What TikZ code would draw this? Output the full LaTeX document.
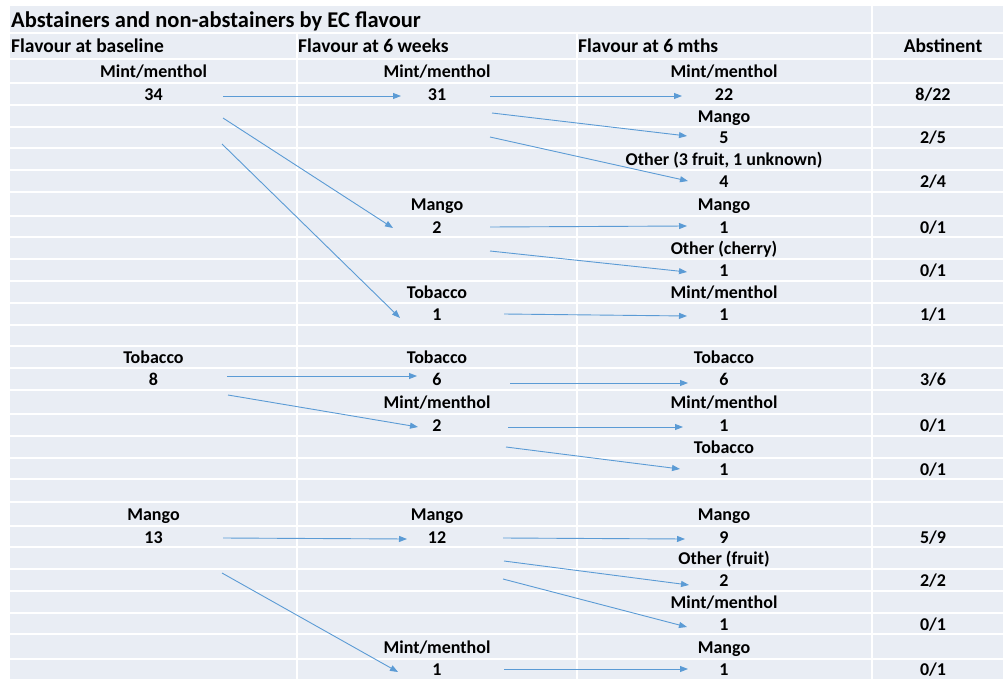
\documentclass[tikz,border=0pt]{standalone}
\usepackage{fontspec}
\setmainfont{Carlito}
\usetikzlibrary{arrows.meta}
\definecolor{bandbg}{RGB}{233,237,244}
\definecolor{arrowblue}{RGB}{91,155,213}
\begin{document}
\begin{tikzpicture}[x=1pt,y=-1pt,
  cell/.style={inner sep=0pt, anchor=base, font=\fontsize{18}{20}\selectfont\bfseries},
  hdr/.style={inner sep=0pt, anchor=base west, font=\fontsize{19.5}{22}\selectfont\bfseries},
  ttl/.style={inner sep=0pt, anchor=base west, font=\fontsize{22.5}{24}\selectfont\bfseries},
  flow/.style={draw=arrowblue, line width=0.9pt, -{Triangle[length=8pt,width=6pt]}},
  gridline/.style={draw=white, line width=1.5pt}]
\useasboundingbox (0,0) rectangle (1003,679);
\fill[bandbg] (10,6) rectangle (1003,679);
\foreach \yy in {33,59,83,105,127,148,170,192,216,237,259,281,303,325,346,368,390,414,436,458,479,502,526,547,569,591,613,634,659}
  \draw[gridline] (10,\yy) -- (1003,\yy);
\draw[gridline] (297,33) -- (297,679);
\draw[gridline] (577,33) -- (577,679);
\draw[gridline] (872,6) -- (872,679);

% title and headers
\node[ttl] (title) at (11,28) {Abstainers and non-abstainers by EC flavour};
\node[hdr] (h1) at (11,53) {Flavour at baseline};
\node[hdr] (h2) at (298,53) {Flavour at 6 weeks};
\node[hdr] (h3) at (578,53) {Flavour at 6 mths};
\node[hdr, anchor=base] (h4) at (943,53) {Abstinent};

% column 1
\node[cell] (bML) at (153.5,77.5) {Mint/menthol};
\node[cell] (bM)  at (153.5,100.5) {34};
\node[cell] (bTL) at (153.5,363.5) {Tobacco};
\node[cell] (bT)  at (153.5,385.5) {8};
\node[cell] (bGL) at (153.5,520.5) {Mango};
\node[cell] (bG)  at (153.5,543) {13};

% column 2
\node[cell] (wML) at (437,77.5) {Mint/menthol};
\node[cell] (wM)  at (437,100.5) {31};
\node[cell] (wGL) at (437,210.5) {Mango};
\node[cell] (wG)  at (437,233) {2};
\node[cell] (wTL) at (437,298.5) {Tobacco};
\node[cell] (wT)  at (437,320.5) {1};
\node[cell] (wTTL) at (437,363.5) {Tobacco};
\node[cell] (wTT)  at (437,385.5) {6};
\node[cell] (wTML) at (437,408.5) {Mint/menthol};
\node[cell] (wTM)  at (437,431.5) {2};
\node[cell] (wGGL) at (437,520.5) {Mango};
\node[cell] (wGG)  at (437,543) {12};
\node[cell] (wGML) at (437,653) {Mint/menthol};
\node[cell] (wGM)  at (437,675) {1};

% column 3
\node[cell] (mA1L) at (724,77.5) {Mint/menthol};
\node[cell] (mA1)  at (724,100.5) {22};
\node[cell] (mA2L) at (724,122.5) {Mango};
\node[cell] (mA2)  at (724,144) {5};
\node[cell] (mA3L) at (724,165.5) {Other (3 fruit, 1 unknown)};
\node[cell] (mA3)  at (724,187.5) {4};
\node[cell] (mB1L) at (724,210.5) {Mango};
\node[cell] (mB1)  at (724,233) {1};
\node[cell] (mB2L) at (724,254.5) {Other (cherry)};
\node[cell] (mB2)  at (724,276.5) {1};
\node[cell] (mC1L) at (724,298.5) {Mint/menthol};
\node[cell] (mC1)  at (724,320.5) {1};
\node[cell] (mD1L) at (724,363.5) {Tobacco};
\node[cell] (mD1)  at (724,385.5) {6};
\node[cell] (mE1L) at (724,408.5) {Mint/menthol};
\node[cell] (mE1)  at (724,431.5) {1};
\node[cell] (mE2L) at (724,453.5) {Tobacco};
\node[cell] (mE2)  at (724,475) {1};
\node[cell] (mF1L) at (724,520.5) {Mango};
\node[cell] (mF1)  at (724,543) {9};
\node[cell] (mF2L) at (724,564.5) {Other (fruit)};
\node[cell] (mF2)  at (724,586.5) {2};
\node[cell] (mF3L) at (724,608.5) {Mint/menthol};
\node[cell] (mF3)  at (724,630) {1};
\node[cell] (mG1L) at (724,653) {Mango};
\node[cell] (mG1)  at (724,675) {1};

% column 4
\node[cell] (s1) at (933,100.5) {8/22};
\node[cell] (s2) at (933,144) {2/5};
\node[cell] (s3) at (933,187.5) {2/4};
\node[cell] (s4) at (933,233) {0/1};
\node[cell] (s5) at (933,276.5) {0/1};
\node[cell] (s6) at (933,320.5) {1/1};
\node[cell] (s7) at (933,385.5) {3/6};
\node[cell] (s8) at (933,431.5) {0/1};
\node[cell] (s9) at (933,475) {0/1};
\node[cell] (s10) at (933,543) {5/9};
\node[cell] (s11) at (933,586.5) {2/2};
\node[cell] (s12) at (933,630) {0/1};
\node[cell] (s13) at (933,675) {0/1};

% arrow end points
\coordinate (a1s) at (223,96);  \coordinate (a1e) at (401,96);
\coordinate (a2s) at (223,118); \coordinate (a2e) at (393,228);
\coordinate (a3s) at (222,144); \coordinate (a3e) at (400,318);
\coordinate (a4s) at (490,96);  \coordinate (a4e) at (682,96);
\coordinate (a5s) at (492,113); \coordinate (a5e) at (687,136);
\coordinate (a6s) at (490,137); \coordinate (a6e) at (688,181);
\coordinate (a7s) at (490,227); \coordinate (a7e) at (687,226);
\coordinate (a8s) at (490,251); \coordinate (a8e) at (687,272);
\coordinate (a9s) at (504,314); \coordinate (a9e) at (687,316);
\coordinate (a10s) at (227,376); \coordinate (a10e) at (417,376);
\coordinate (a11s) at (228,395); \coordinate (a11e) at (418,427);
\coordinate (a12s) at (510,383); \coordinate (a12e) at (688,383);
\coordinate (a13s) at (508,427); \coordinate (a13e) at (683,427);
\coordinate (a14s) at (506,447); \coordinate (a14e) at (680,469);
\coordinate (a15s) at (223,538); \coordinate (a15e) at (407,539);
\coordinate (a16s) at (222,573); \coordinate (a16e) at (398,672);
\coordinate (a17s) at (503,538); \coordinate (a17e) at (685,539);
\coordinate (a18s) at (504,561); \coordinate (a18e) at (689,585);
\coordinate (a19s) at (503,579); \coordinate (a19e) at (687,627);
\coordinate (a20s) at (504,669); \coordinate (a20e) at (688,669);

\foreach \i in {1,...,20} \draw[flow] (a\i s) -- (a\i e);
\end{tikzpicture}
\end{document}
